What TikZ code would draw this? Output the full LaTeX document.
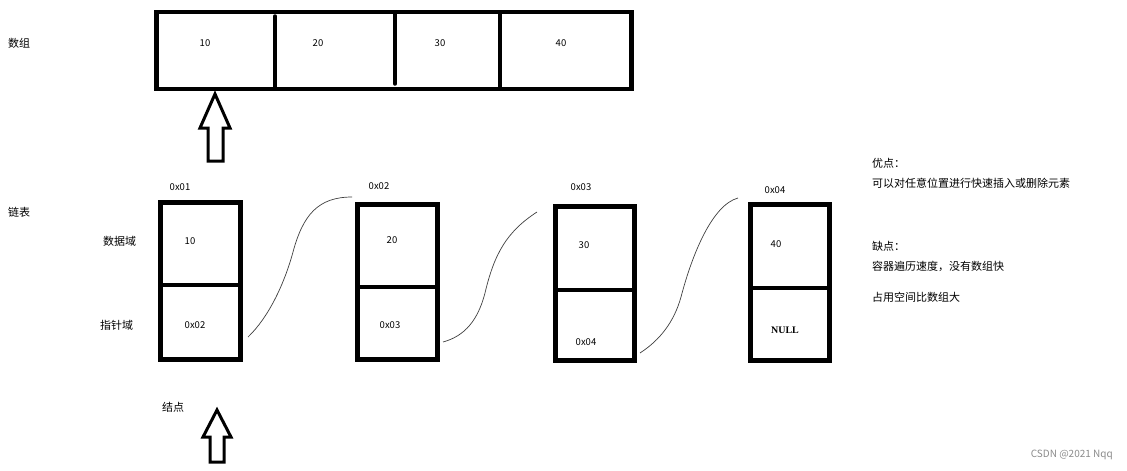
\documentclass[tikz,border=0pt]{standalone}
\usepackage{fontspec}
\setmainfont{Noto Sans CJK SC}
\newfontfamily\myserif{Liberation Serif}
\begin{document}
\begin{tikzpicture}[x=1pt,y=-1pt,
  box/.style={draw, line width=4.5pt, inner sep=0pt, outer sep=0pt},
  bar/.style={line width=4.5pt},
  thinbar/.style={line width=3.5pt, line cap=round},
  num/.style={font=\fontsize{9.5}{10}\selectfont, inner sep=0pt},
  cn/.style={font=\fontsize{11}{12}\selectfont, inner sep=0pt, anchor=west},
  link/.style={line width=0.7pt, black!75},
  hollow/.style={draw, line width=3pt, line join=miter, fill=white}]
\fill[white] (0,0) rectangle (1127,471);
\useasboundingbox (0,0) rectangle (1127,471);

% array
\node[box, minimum width=475pt, minimum height=77pt] (arr) at (394,50.5) {};
\draw[thinbar] (275,16) -- (275,88);
\draw[thinbar] (395,13) -- (395,84);
\draw[bar] (500,12) -- (500,89);
\node[num] (a10) at (205,43) {10};
\node[num] (a20) at (318,43) {20};
\node[num] (a30) at (440,43) {30};
\node[num] (a40) at (561,43) {40};
\node[cn] (lblarr) at (8,43) {数组};

% top hollow arrow
\draw[hollow] (215,94) -- (230,128) -- (223,128) -- (223,161) -- (208,161) -- (208,128) -- (200,128) -- cycle;

% linked list
\node[cn] (lbllist) at (8,212) {链表};
\node[cn] (lbldata) at (103,241) {数据域};
\node[cn] (lblptr) at (100,325) {指针域};

\node[box, minimum width=80pt, minimum height=157pt] (n1) at (200.5,281) {};
\draw[bar] (n1.west |- 0,285) -- (n1.east |- 0,285);
\node[box, minimum width=80pt, minimum height=155pt] (n2) at (397.5,282) {};
\draw[bar] (n2.west |- 0,287) -- (n2.east |- 0,287);
\node[box, minimum width=79pt, minimum height=154pt] (n3) at (595,283.5) {};
\draw[bar] (n3.west |- 0,290) -- (n3.east |- 0,290);
\node[box, minimum width=79pt, minimum height=156pt] (n4) at (790,282.5) {};
\draw[bar] (n4.west |- 0,288) -- (n4.east |- 0,288);

\node[num] (ad1) at (180,187) {0x01};
\node[num] (ad2) at (379,186) {0x02};
\node[num] (ad3) at (581,187) {0x03};
\node[num] (ad4) at (775,190) {0x04};

\node[num] (v1) at (190,241) {10};
\node[num] (v2) at (392,240) {20};
\node[num] (v3) at (584,245) {30};
\node[num] (v4) at (776,244) {40};
\node[num] (p1) at (195,325) {0x02};
\node[num] (p2) at (390,325) {0x03};
\node[num] (p3) at (586,342) {0x04};
\node[num, font=\fontsize{10}{10}\selectfont\myserif\bfseries] (p4) at (785,330) {NULL};

% links
\coordinate (s1) at (248,337); \coordinate (e1) at (352,197);
\coordinate (s2) at (443,342); \coordinate (e2) at (537,212);
\coordinate (s3) at (640,353); \coordinate (e3) at (738,198);
\draw[link] (s1) .. controls (268,318) and (284,285) .. (293,252)
  .. controls (303,215) and (318,197) .. (e1);
\draw[link] (s2) .. controls (465,336) and (478,320) .. (485,293)
  .. controls (494,255) and (506,232) .. (e2);
\draw[link] (s3) .. controls (660,340) and (674,322) .. (681,297)
  .. controls (692,255) and (712,205) .. (e3);

% node label and bottom hollow arrow
\node[cn] (lblnode) at (162,407) {结点};
\draw[hollow] (217,410) -- (231,437) -- (224,437) -- (224,462) -- (210,462) -- (210,437) -- (203,437) -- cycle;

% notes
\node[cn] (adv) at (872,163) {优点：};
\node[cn] (advt) at (872,183) {可以对任意位置进行快速插入或删除元素};
\node[cn] (dis) at (872,246) {缺点：};
\node[cn] (dist) at (872,266) {容器遍历速度，没有数组快};
\node[cn] (dist2) at (872,297) {占用空间比数组大};

\node[font=\fontsize{10}{12}\selectfont, text=black!45, anchor=east, inner sep=0pt] (wm) at (1113,455) {CSDN @2021 Nqq};
\end{tikzpicture}
\end{document}
